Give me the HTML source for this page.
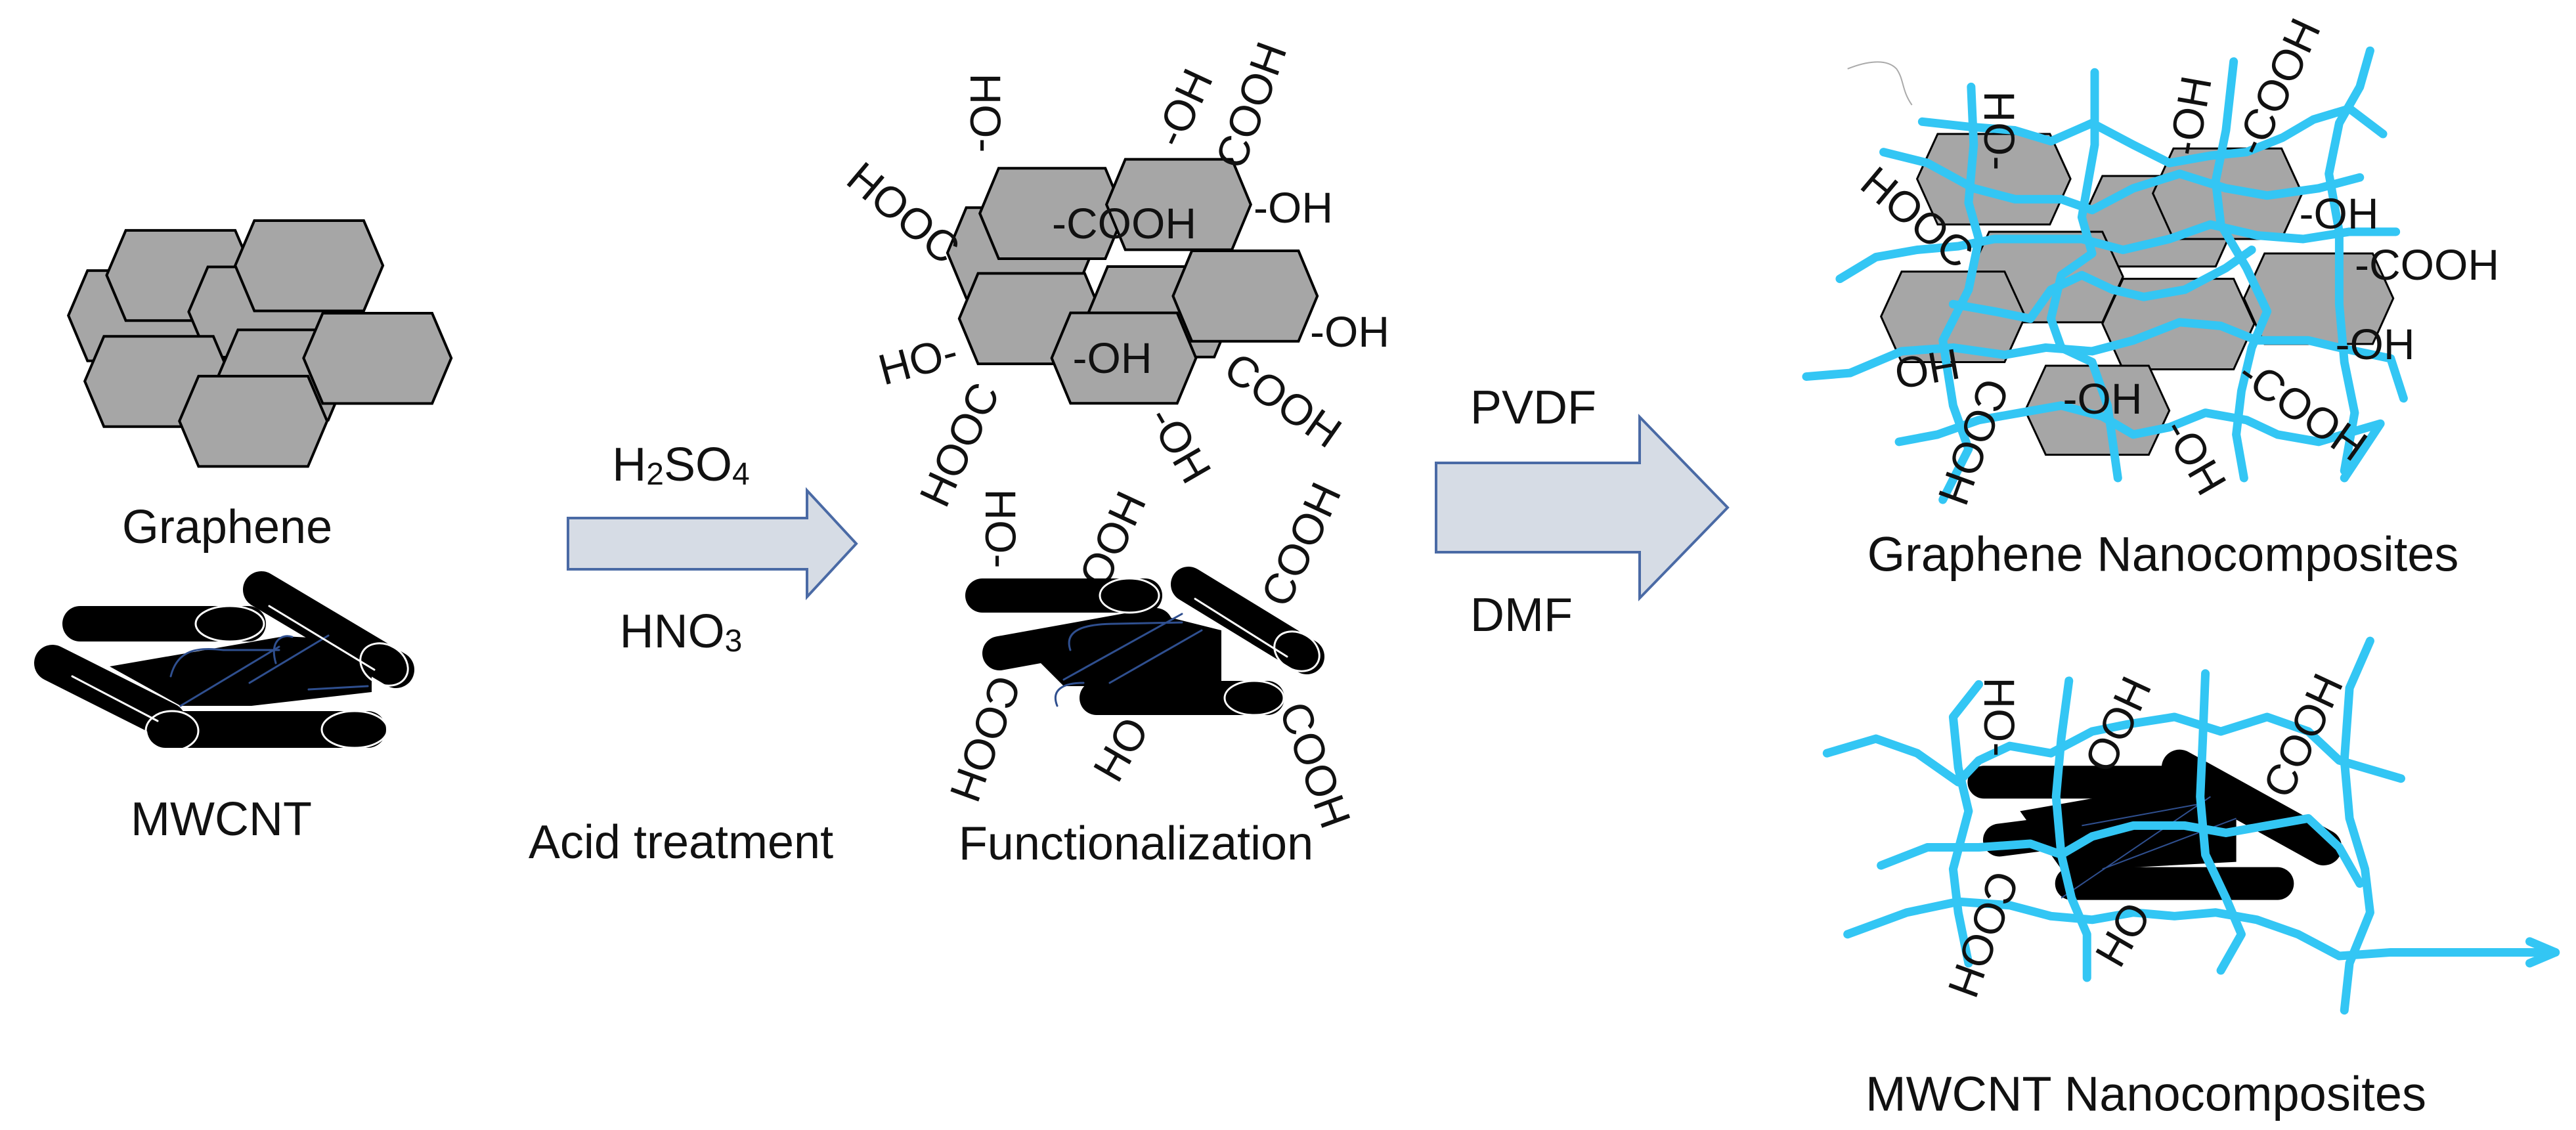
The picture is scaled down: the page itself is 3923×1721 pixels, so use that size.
<!DOCTYPE html>
<html><head><meta charset="utf-8"><style>
html,body{margin:0;padding:0;background:#fff}
svg{display:block}
text{font-family:"Liberation Sans",sans-serif;fill:#111}
</style></head><body>
<svg width="3923" height="1721" viewBox="0 0 3923 1721" xmlns="http://www.w3.org/2000/svg">
<rect width="3923" height="1721" fill="#fff"/>

<!-- LEFT: graphene hexes (zoom1 coords) -->
<g transform="translate(0,250) scale(0.833,0.705)" fill="#a6a6a6" stroke="#000">
<g stroke-width="4" vector-effect="non-scaling-stroke">
<polygon vector-effect="non-scaling-stroke" points="125,327 160,230 360,230 395,327 360,425 160,425"/>
<polygon vector-effect="non-scaling-stroke" points="195,240 230,143 430,143 465,240 430,338 230,338"/>
<polygon vector-effect="non-scaling-stroke" points="345,319 380,222 580,222 615,319 580,417 380,417"/>
<polygon vector-effect="non-scaling-stroke" points="430,219 465,122 665,122 700,219 665,317 465,317"/>
<polygon vector-effect="non-scaling-stroke" points="155,469 190,372 390,372 425,469 390,567 190,567"/>
<polygon vector-effect="non-scaling-stroke" points="400,455 435,358 600,358 635,455 600,553 435,553"/>
<polygon vector-effect="non-scaling-stroke" points="555,419 590,322 790,322 825,419 790,517 590,517"/>
<polygon vector-effect="non-scaling-stroke" points="328,555 363,458 563,458 598,555 563,653 363,653"/>
</g></g>

<!-- LEFT CNT -->
<g stroke-linecap="round">
<polygon points="167,1015 433,969 566,976 566,1054 383,1075 275,1075" fill="#000"/>
<line x1="122" y1="950" x2="378" y2="950" stroke="#000" stroke-width="54"/>
<line x1="398" y1="898" x2="603" y2="1020" stroke="#000" stroke-width="56"/>
<line x1="80" y1="1010" x2="255" y2="1098" stroke="#000" stroke-width="56"/>
<line x1="252" y1="1111" x2="560" y2="1111" stroke="#000" stroke-width="56"/>
<g fill="none" stroke="#2f4f8f" stroke-width="3">
<path d="M275,1075 L425,985 M380,1040 L500,968 M260,1030 C270,990 300,985 340,990 L425,990 M420,1010 C410,975 430,965 445,970 M470,1050 L560,1045"/>
</g>
<g fill="none" stroke="#fff" stroke-width="3">
<ellipse cx="350" cy="950" rx="52" ry="27"/>
<ellipse cx="585" cy="1012" rx="38" ry="30" transform="rotate(30 585 1012)"/>
<ellipse cx="262" cy="1113" rx="40" ry="30"/>
<ellipse cx="540" cy="1111" rx="50" ry="28"/>
<line x1="410" y1="923" x2="570" y2="1020"/>
<line x1="110" y1="1030" x2="240" y2="1098"/>
</g>
</g>

<text x="346" y="803" font-size="72" text-anchor="middle" dominant-baseline="central">Graphene</text>
<text x="337" y="1248" font-size="72" text-anchor="middle" dominant-baseline="central">MWCNT</text>
<text x="1037" y="1283" font-size="72" text-anchor="middle" dominant-baseline="central">Acid treatment</text>
<text x="1037" y="708" font-size="72" text-anchor="middle" dominant-baseline="central">H<tspan font-size="48" dy="14">2</tspan><tspan dy="-14">SO</tspan><tspan font-size="48" dy="14">4</tspan></text>
<text x="1037" y="962" font-size="72" text-anchor="middle" dominant-baseline="central">HNO<tspan font-size="48" dy="14">3</tspan></text>

<!-- Arrow 1 -->
<polygon points="865,789 1229,789 1229,747 1304,828 1229,909 1229,867 865,867" fill="#d6dce5" stroke="#4a6aa5" stroke-width="4"/>

<!-- MIDDLE: hexes (zoom2 coords) -->
<g transform="translate(1250,100) scale(0.897,0.801)" fill="#a6a6a6" stroke="#000" stroke-width="4">
<polygon vector-effect="non-scaling-stroke" points="215,356 247,270 428,270 460,356 428,442 247,442"/>
<polygon vector-effect="non-scaling-stroke" points="270,281 302,195 483,195 515,281 483,367 302,367"/>
<polygon vector-effect="non-scaling-stroke" points="485,264 517,178 698,178 730,264 698,350 517,350"/>
<polygon vector-effect="non-scaling-stroke" points="235,481 267,395 448,395 480,481 448,567 267,567"/>
<polygon vector-effect="non-scaling-stroke" points="455,468 487,382 668,382 700,468 668,554 487,554"/>
<polygon vector-effect="non-scaling-stroke" points="598,438 630,352 811,352 843,438 811,524 630,524"/>
<polygon vector-effect="non-scaling-stroke" points="392,556 424,470 605,470 637,556 605,642 424,642"/>
</g>

<g font-size="66">
<text x="1501" y="172" text-anchor="middle" dominant-baseline="central" transform="rotate(90 1501 172)">HO-</text>
<text x="1802" y="164" text-anchor="middle" dominant-baseline="central" transform="rotate(-65 1802 164)">-OH</text>
<text x="1905" y="160" text-anchor="middle" dominant-baseline="central" transform="rotate(-70 1905 160)">COOH</text>
<text x="1376" y="324" text-anchor="middle" dominant-baseline="central" transform="rotate(40 1376 324)">HOOC</text>
<text x="1712" y="340" text-anchor="middle" dominant-baseline="central">-COOH</text>
<text x="1909" y="316" dominant-baseline="central">-OH</text>
<text x="1995" y="505" dominant-baseline="central">-OH</text>
<text x="1398" y="549" text-anchor="middle" dominant-baseline="central" transform="rotate(-15 1398 549)">HO-</text>
<text x="1694" y="545" text-anchor="middle" dominant-baseline="central">-OH</text>
<text x="1954" y="609" text-anchor="middle" dominant-baseline="central" transform="rotate(35 1954 609)">COOH</text>
<text x="1797" y="677" text-anchor="middle" dominant-baseline="central" transform="rotate(60 1797 677)">-OH</text>
<text x="1461" y="677" text-anchor="middle" dominant-baseline="central" transform="rotate(-65 1461 677)">HOOC</text>
<text x="1524" y="805" text-anchor="middle" dominant-baseline="central" transform="rotate(90 1524 805)">HO-</text>
<text x="1694" y="821" text-anchor="middle" dominant-baseline="central" transform="rotate(-65 1694 821)">OOH</text>
<text x="1981" y="829" text-anchor="middle" dominant-baseline="central" transform="rotate(-65 1981 829)">COOH</text>
<text x="1501" y="1125" text-anchor="middle" dominant-baseline="central" transform="rotate(110 1501 1125)">COOH</text>
<text x="1707" y="1141" text-anchor="middle" dominant-baseline="central" transform="rotate(-60 1707 1141)">HO</text>
<text x="2003" y="1165" text-anchor="middle" dominant-baseline="central" transform="rotate(70 2003 1165)">COOH</text>
</g>

<!-- MIDDLE CNT -->
<g stroke-linecap="round">
<line x1="1496" y1="907" x2="1744" y2="907" stroke="#000" stroke-width="52"/>
<line x1="1810" y1="890" x2="1990" y2="1000" stroke="#000" stroke-width="54"/>
<line x1="1522" y1="995" x2="1760" y2="952" stroke="#000" stroke-width="52"/>
<line x1="1670" y1="1063" x2="1930" y2="1063" stroke="#000" stroke-width="52"/>
<polygon points="1560,985 1780,940 1860,960 1860,1040 1700,1045 1620,1045" fill="#000"/>
<g fill="none" stroke="#2f4f8f" stroke-width="3">
<path d="M1620,1035 L1800,935 M1690,1040 L1830,960 M1630,990 C1620,960 1650,950 1700,950 L1800,948 M1610,1075 C1600,1050 1620,1040 1650,1040"/>
</g>
<g fill="none" stroke="#fff" stroke-width="3">
<ellipse cx="1720" cy="907" rx="45" ry="26"/>
<ellipse cx="1975" cy="992" rx="36" ry="28" transform="rotate(30 1975 992)"/>
<ellipse cx="1910" cy="1063" rx="45" ry="26"/>
<line x1="1820" y1="912" x2="1960" y2="1000"/>
</g>
</g>

<text x="1730" y="1285" font-size="72" text-anchor="middle" dominant-baseline="central">Functionalization</text>
<text x="2335" y="621" font-size="72" text-anchor="middle" dominant-baseline="central">PVDF</text>
<text x="2317" y="937" font-size="72" text-anchor="middle" dominant-baseline="central">DMF</text>

<!-- Arrow 2 -->
<polygon points="2187,705 2497,705 2497,635 2631,773 2497,911 2497,841 2187,841" fill="#d6dce5" stroke="#4a6aa5" stroke-width="4"/>

<!-- RIGHT (zoom3 coords) -->
<g transform="translate(2700,0) scale(0.784,1.103)">
<path d="M145,95 C180,85 220,80 240,95 C255,110 250,125 270,145" fill="none" stroke="#aaa" stroke-width="2" vector-effect="non-scaling-stroke"/>
<g fill="#a6a6a6" stroke="#000" stroke-width="3">
<polygon vector-effect="non-scaling-stroke" points="600,305 640,243 860,243 900,305 860,368 640,368"/>
<polygon vector-effect="non-scaling-stroke" points="380,382 420,320 640,320 680,382 640,445 420,445"/>
<polygon vector-effect="non-scaling-stroke" points="280,247 320,185 538,185 578,247 538,310 320,310"/>
<polygon vector-effect="non-scaling-stroke" points="738,267 778,205 988,205 1028,267 988,330 778,330"/>
<polygon vector-effect="non-scaling-stroke" points="210,437 250,375 450,375 490,437 450,500 250,500"/>
<polygon vector-effect="non-scaling-stroke" points="640,447 680,385 895,385 935,447 895,510 680,510"/>
<polygon vector-effect="non-scaling-stroke" points="915,412 955,350 1165,350 1205,412 1165,475 955,475"/>
<polygon vector-effect="non-scaling-stroke" points="490,567 530,505 730,505 770,567 730,628 530,628"/>
</g>
<!-- bottom CNT -->
<g stroke="#000" stroke-linecap="round" fill="none">
<line x1="410" y1="1080" x2="755" y2="1080" stroke-width="50" vector-effect="non-scaling-stroke"/>
<line x1="790" y1="1060" x2="1070" y2="1170" stroke-width="55" vector-effect="non-scaling-stroke"/>
<line x1="440" y1="1160" x2="770" y2="1130" stroke-width="50" vector-effect="non-scaling-stroke"/>
<line x1="580" y1="1220" x2="980" y2="1220" stroke-width="50" vector-effect="non-scaling-stroke"/>
</g>
<polygon points="480,1120 800,1080 900,1110 900,1190 640,1200 560,1200" fill="#000"/>
<g fill="none" stroke="#2f4f8f" stroke-width="2" vector-effect="non-scaling-stroke">
<path vector-effect="non-scaling-stroke" d="M560,1240 L850,1100 M600,1140 L830,1110 M640,1200 L900,1130"/>
</g>
<g fill="none" stroke="#33c6f4" stroke-width="13" stroke-linecap="round" stroke-linejoin="round">
<polyline vector-effect="non-scaling-stroke" points="290,168 380,175 470,180 540,195 620,170 700,200 770,225 850,215 920,210 990,190 1050,165 1120,150 1185,185"/>
<polyline vector-effect="non-scaling-stroke" points="215,210 300,225 390,260 470,275 560,275 620,290 700,260 790,240 880,260 960,270 1060,260 1140,245"/>
<polyline vector-effect="non-scaling-stroke" points="130,385 200,355 280,345 360,340 430,330 520,330 600,330 680,345 770,330 850,310 940,325 1030,330 1120,320 1210,320"/>
<polyline vector-effect="non-scaling-stroke" points="350,420 430,430 500,440 540,400 600,380 660,400 720,410 800,400 880,370 930,345"/>
<polyline vector-effect="non-scaling-stroke" points="65,520 150,515 250,485 350,480 450,490 530,480 620,485 700,470 790,445 870,450 940,470 1040,470 1100,480 1200,495 1225,550"/>
<polyline vector-effect="non-scaling-stroke" points="245,610 320,600 400,580 480,570 560,560 640,575 700,600 770,590 840,570 920,580 980,600 1060,610 1180,585 1110,660"/>
<polyline vector-effect="non-scaling-stroke" points="385,120 390,200 380,280 400,330 380,400 330,470 350,560 380,620 330,690"/>
<polyline vector-effect="non-scaling-stroke" points="625,100 625,200 600,300 620,350 560,380 540,440 560,480 620,500 650,560 670,660"/>
<polyline vector-effect="non-scaling-stroke" points="895,85 880,180 860,250 870,310 920,370 960,430 930,480 910,540 900,600 915,660"/>
<polyline vector-effect="non-scaling-stroke" points="1160,70 1140,120 1100,170 1080,240 1100,320 1100,420 1110,500 1130,570 1110,650"/>
<polyline vector-effect="non-scaling-stroke" points="105,1040 200,1020 280,1040 360,1080 400,1050 460,1030 540,1040 620,1010 690,1000 780,990 870,1010 960,990 1040,1010 1100,1050 1220,1075"/>
<polyline vector-effect="non-scaling-stroke" points="210,1195 300,1170 400,1170 500,1165 560,1180 620,1155 700,1140 800,1140 880,1150 960,1140 1040,1130 1100,1170 1140,1220"/>
<polyline vector-effect="non-scaling-stroke" points="145,1290 260,1260 360,1245 460,1250 540,1265 620,1270 700,1260 780,1265 860,1260 940,1270 1020,1290 1100,1320 1200,1315 1300,1315 1520,1315"/>
<polyline vector-effect="non-scaling-stroke" points="1470,1300 1520,1315 1470,1330"/>
<polyline vector-effect="non-scaling-stroke" points="400,945 350,990 360,1060 380,1120 350,1200 360,1260 380,1330"/>
<polyline vector-effect="non-scaling-stroke" points="575,940 560,1020 550,1100 560,1180 580,1240 610,1290 610,1350"/>
<polyline vector-effect="non-scaling-stroke" points="840,930 835,1020 830,1100 840,1180 880,1240 910,1290 870,1340"/>
<polyline vector-effect="non-scaling-stroke" points="1160,885 1120,950 1110,1050 1120,1130 1150,1200 1160,1260 1120,1330 1110,1395"/>
</g>
</g>

<g font-size="66">
<text x="3045" y="199" text-anchor="middle" dominant-baseline="central" transform="rotate(90 3045 199)">HO-</text>
<text x="3335" y="176" text-anchor="middle" dominant-baseline="central" transform="rotate(-80 3335 176)">-OH</text>
<text x="3468" y="132" text-anchor="middle" dominant-baseline="central" transform="rotate(-65 3468 132)">-COOH</text>
<text x="2920" y="331" text-anchor="middle" dominant-baseline="central" transform="rotate(40 2920 331)">HOOC</text>
<text x="3562" y="325" text-anchor="middle" dominant-baseline="central">-OH</text>
<text x="3586" y="403" dominant-baseline="central">-COOH</text>
<text x="3617" y="524" text-anchor="middle" dominant-baseline="central">-OH</text>
<text x="2935" y="562" text-anchor="middle" dominant-baseline="central" transform="rotate(170 2935 562)">HO</text>
<text x="3006" y="673" text-anchor="middle" dominant-baseline="central" transform="rotate(110 3006 673)">COOH</text>
<text x="3202" y="607" text-anchor="middle" dominant-baseline="central">-OH</text>
<text x="3507" y="623" text-anchor="middle" dominant-baseline="central" transform="rotate(35 3507 623)">-COOH</text>
<text x="3343" y="695" text-anchor="middle" dominant-baseline="central" transform="rotate(60 3343 695)">-OH</text>
<text x="3045" y="1092" text-anchor="middle" dominant-baseline="central" transform="rotate(90 3045 1092)">HO-</text>
<text x="3225" y="1103" text-anchor="middle" dominant-baseline="central" transform="rotate(-65 3225 1103)">OOH</text>
<text x="3507" y="1120" text-anchor="middle" dominant-baseline="central" transform="rotate(-65 3507 1120)">COOH</text>
<text x="3021" y="1423" text-anchor="middle" dominant-baseline="central" transform="rotate(110 3021 1423)">COOH</text>
<text x="3233" y="1423" text-anchor="middle" dominant-baseline="central" transform="rotate(-60 3233 1423)">HO</text>
</g>

<text x="3294" y="844" font-size="74" text-anchor="middle" dominant-baseline="central">Graphene Nanocomposites</text>
<text x="3268" y="1666" font-size="74" text-anchor="middle" dominant-baseline="central">MWCNT Nanocomposites</text>
</svg>
</body></html>
